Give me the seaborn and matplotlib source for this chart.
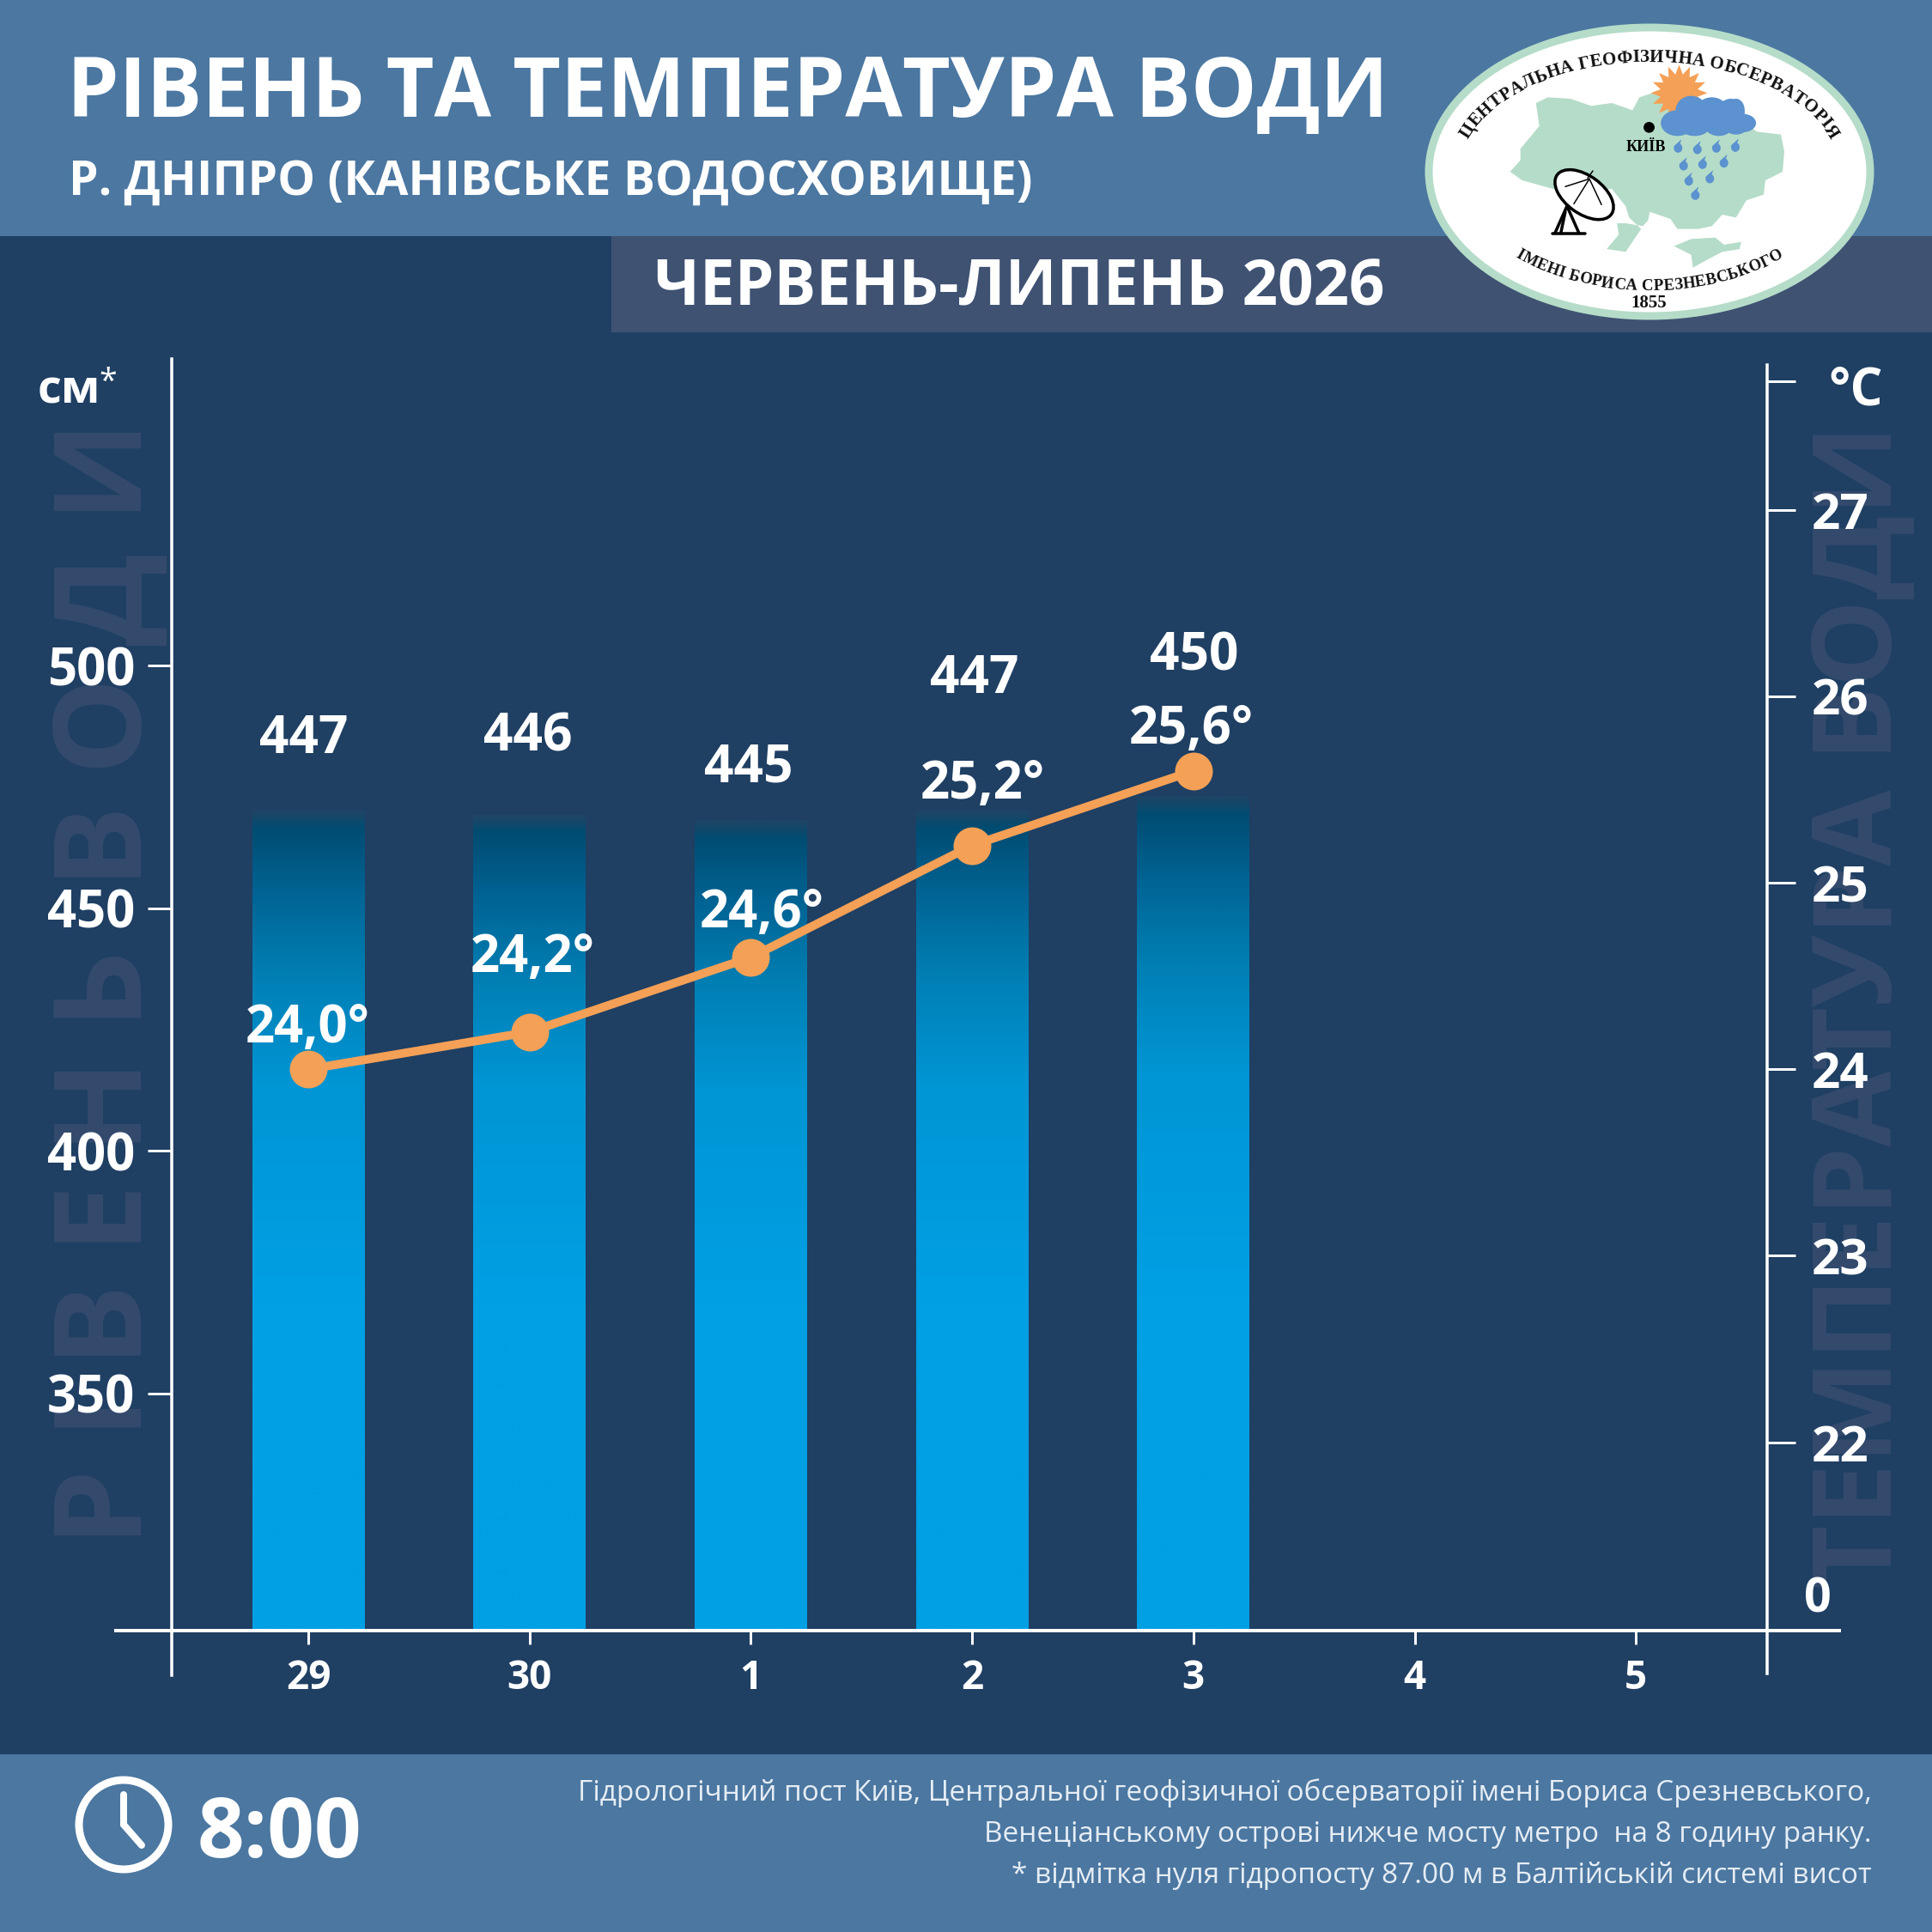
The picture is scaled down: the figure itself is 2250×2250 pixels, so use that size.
import numpy as np
import pandas as pd
import matplotlib
matplotlib.use("Agg")
import matplotlib.pyplot as plt
from matplotlib.colors import LinearSegmentedColormap
from matplotlib.font_manager import FontProperties
from matplotlib.patches import Ellipse, Polygon, Rectangle
from matplotlib.textpath import TextToPath
import seaborn as sns

# Daily observations
DAYS = ["29", "30", "1", "2", "3", "4", "5"]
LEVEL_CM = [447, 446, 445, 447, 450, np.nan, np.nan]
TEMP_C = [24.0, 24.2, 24.6, 25.2, 25.6, np.nan, np.nan]
TEMP_LABELS = ["24,0°", "24,2°", "24,6°", "25,2°", "25,6°"]

LEVEL_TICKS = [350, 400, 450, 500]
TEMP_TICKS = [22, 23, 24, 25, 26, 27]

TITLE = "РІВЕНЬ ТА ТЕМПЕРАТУРА ВОДИ"
SUBTITLE = "Р. ДНІПРО (КАНІВСЬКЕ ВОДОСХОВИЩЕ)"
PERIOD = "ЧЕРВЕНЬ-ЛИПЕНЬ 2026"
FOOTNOTES = [
    "Гідрологічний пост Київ, Центральної геофізичної обсерваторії імені Бориса Срезневського,",
    "Венеціанському острові нижче мосту метро  на 8 годину ранку.",
    "* відмітка нуля гідропосту 87.00 м в Балтійській системі висот",
]

# Palette
BG = "#1f3f63"
STEEL = "#4b77a1"
SLATE = "#3f5272"
GHOST = "#344b6d"
ORANGE = "#f4a056"
MINT = "#b5dcc8"
CLOUD = "#5b92cf"
WHITE = "#ffffff"
BAR_RAMP = [(0.00, "#1e4565"), (0.02, "#004c72"), (0.10, "#006494"),
            (0.20, "#007fb4"), (0.33, "#0095d4"), (0.60, "#00a0e4"), (1.00, "#00a0e4")]

sns.set_theme(style="white", rc={"axes.grid": False})
plt.rcParams["font.family"] = ["Open Sans", "DejaVu Sans"]
plt.rcParams["font.weight"] = "bold"

SIZE = 2250
DPI = 100
PT = 72 / DPI  # points per output pixel

fig = plt.figure(figsize=(SIZE / DPI, SIZE / DPI), dpi=DPI, facecolor=BG)

# Backdrop in pixel units: bands, headings, ghost captions and the emblem
bg = fig.add_axes([0, 0, 1, 1], zorder=0)
bg.set_xlim(0, SIZE)
bg.set_ylim(SIZE, 0)
bg.axis("off")
bg.add_patch(Rectangle((0, 0), SIZE, 275, fc=STEEL, ec="none"))
bg.add_patch(Rectangle((712, 275), SIZE - 712, 112, fc=SLATE, ec="none"))
bg.add_patch(Rectangle((0, 2043), SIZE, SIZE - 2043, fc=STEEL, ec="none"))

bg.text(78, 136, TITLE, color=WHITE, fontsize=69.5, va="baseline", ha="left")
bg.text(80, 227, SUBTITLE, color=WHITE, fontsize=39.7, va="baseline", ha="left")
bg.text(762, 356, PERIOD, color=WHITE, fontsize=52.4, va="baseline", ha="left")

bg.text(165, 1800, "Р І В Е Н Ь  В О Д И", color=GHOST, fontsize=102, rotation=90,
        va="baseline", ha="left", rotation_mode="anchor")
bg.text(2203, 1850, "ТЕМПЕРАТУРА ВОДИ", color=GHOST, fontsize=92.3, rotation=90,
        va="baseline", ha="left", rotation_mode="anchor")

bg.text(44, 470, "см", color=WHITE, fontsize=39, va="baseline", ha="left")
bg.text(126, 456, "*", color=WHITE, fontsize=27, va="baseline", ha="center", fontweight="normal")
bg.text(2193, 471, "°C", color=WHITE, fontsize=43, va="baseline", ha="right")
bg.text(2117, 1877, "0", color=WHITE, fontsize=40, va="baseline", ha="center")

# Clock and observation time
bg.add_patch(Ellipse((144, 2125), 104, 104, fc="none", ec=WHITE, lw=9 * PT))
bg.plot([144, 144, 165], [2090, 2125, 2149], color=WHITE, lw=8 * PT, solid_joinstyle="miter")
bg.text(230, 2163, "8:00", color=WHITE, fontsize=69, va="baseline", ha="left")
for line, base in zip(FOOTNOTES, [2097, 2145, 2193]):
    bg.text(2180, base, line, color="#e6edf4", fontsize=24.05, fontweight="normal",
            va="baseline", ha="right")


def emblem(zx, zy):
    """Emblem layout units to backdrop pixels."""
    return 1620 + np.asarray(zx, float) / 2.489, np.asarray(zy, float) / 3


def blob(zx, zy, rx, ry, color, z=3):
    x, y = emblem(zx, zy)
    bg.add_patch(Ellipse((x, y), 2 * rx / 2.489, 2 * ry / 3, fc=color, ec="none", zorder=z))


bg.add_patch(Ellipse((1921, 200), 514, 336, fc=WHITE, ec=MINT, lw=9 * PT, zorder=2))

MAP_MAIN = [(420, 360), (455, 340), (520, 345), (580, 370), (640, 360), (700, 385), (720, 340),
            (770, 320), (850, 340), (1000, 400), (1060, 460), (1130, 470), (1140, 530), (1135, 600),
            (1085, 630), (1080, 680), (1030, 700), (1000, 760), (960, 750), (930, 790), (890, 800),
            (830, 800), (810, 765), (750, 740), (745, 770), (730, 790), (680, 780), (655, 780),
            (660, 820), (625, 870), (680, 880), (725, 800), (690, 760), (680, 720), (640, 660),
            (470, 660), (380, 630), (345, 600), (375, 560), (375, 520), (430, 440)]
MAP_CRIMEA = [(820, 860), (870, 835), (940, 830), (965, 855), (1015, 845), (1010, 870),
              (960, 880), (920, 905), (875, 935), (870, 890)]
for outline in (MAP_MAIN, MAP_CRIMEA):
    xs, ys = emblem(*zip(*outline))
    bg.add_patch(Polygon(np.c_[xs, ys], fc=MINT, ec="none", zorder=3))

# Sun
sun_angle = np.linspace(0, 2 * np.pi, 33)[:-1]
sun_radius = np.where(np.arange(32) % 2 == 0, 33, 22)
sx, sy = emblem(835, 325)
bg.add_patch(Polygon(np.c_[sx + sun_radius * np.cos(sun_angle), sy + sun_radius * np.sin(sun_angle)],
                     fc=ORANGE, ec="none", zorder=4))

# Cloud and rain
for cx_, cy_, rx_, ry_ in [(830, 430, 48, 45), (870, 385, 45, 50), (930, 395, 50, 55), (985, 395, 40, 50),
                           (1000, 385, 25, 40), (1020, 430, 38, 32), (880, 440, 45, 35),
                           (950, 440, 40, 35), (1000, 440, 35, 30)]:
    blob(cx_, cy_, rx_, ry_, CLOUD, z=5)
drop_turn = np.linspace(-0.35 * np.pi, 1.15 * np.pi, 24)
for zx, zy in [(832, 517), (888, 522), (943, 517), (998, 514), (848, 579), (903, 574), (965, 569),
               (863, 632), (924, 624), (882, 682)]:
    x, y = emblem(zx, zy)
    edge = np.c_[x + 5 * np.cos(drop_turn), y + 5.5 * np.sin(drop_turn)]
    bg.add_patch(Polygon(np.vstack([[x + 4, y - 10], edge]), fc=CLOUD, ec="none", zorder=5))

# Kyiv marker
blob(748, 445, 16, 19, "black", z=6)
kx, ky = emblem(740, 528)
bg.text(kx, ky, "КИЇВ", color="black", fontsize=13, family=["Liberation Serif"],
        va="baseline", ha="center", zorder=6)

# Radio dish
dx, dy = emblem(560, 680)
for seg in [((510, 720), (475, 815)), ((510, 720), (545, 815)), ((505, 740), (492, 815)),
            ((468, 817), (562, 817))]:
    xs, ys = emblem(*zip(*seg))
    bg.plot(xs, ys, color="black", lw=3.5 * PT, zorder=6)
bg.add_patch(Ellipse((dx, dy), 78, 44, angle=36, fc=WHITE, ec="black", lw=3.5 * PT, zorder=6))
for seg in [((575, 625), (505, 652)), ((575, 625), (530, 712)), ((575, 625), (610, 715)), ((570, 622), (585, 597))]:
    xs, ys = emblem(*zip(*seg))
    bg.plot(xs, ys, color="black", lw=1.5 * PT, zorder=7)

# Lettering that follows the emblem's rim
measure = TextToPath()


def rim_text(text, rx, ry, start, stop, lower, size):
    serif = FontProperties(family="Liberation Serif", weight="bold", size=size)
    widths = np.array([measure.get_text_width_height_descent(c, serif, False)[0] for c in text], float)
    marks = (np.cumsum(widths) - widths / 2) / widths.sum()
    theta = np.linspace(np.radians(start), np.radians(stop), 721)
    px = 1921 + rx * np.cos(theta)
    py = 200 - ry * np.sin(theta)
    run = np.r_[0, np.cumsum(np.hypot(np.diff(px), np.diff(py)))]
    for c, m in zip(text, marks):
        t = np.interp(m * run[-1], run, theta)
        up_x = rx * np.sin(t) * (-1 if lower else 1)
        up_y = ry * np.cos(t) * (1 if lower else -1)
        bg.text(1921 + rx * np.cos(t), 200 - ry * np.sin(t), c, color="#111111",
                fontproperties=serif, rotation=np.degrees(np.arctan2(up_y, up_x)),
                rotation_mode="anchor", ha="center", va="baseline", zorder=8)


rim_text("ЦЕНТРАЛЬНА ГЕОФІЗИЧНА ОБСЕРВАТОРІЯ", 221, 128, 163, 17, False, 15)
rim_text("ІМЕНІ БОРИСА СРЕЗНЕВСЬКОГО", 225, 138, -134, -46, True, 13.5)
nx, ny = emblem(748, 1075)
bg.text(nx, ny, "1855", color="#111111", fontsize=15, family=["Liberation Serif"],
        ha="center", va="baseline", zorder=8)

# Chart frame: x 200..2058 px, y 418..1899 px
AX_L, AX_R, AX_T, AX_B = 200, 2058, 418, 1899
rect = [AX_L / SIZE, 1 - AX_B / SIZE, (AX_R - AX_L) / SIZE, (AX_B - AX_T) / SIZE]
ax = fig.add_axes(rect, zorder=2)
ax.patch.set_visible(False)

STEP = 257.7
records = pd.DataFrame({"day": DAYS, "level": LEVEL_CM, "temp": TEMP_C})
sns.barplot(data=records, x="day", y="level", order=DAYS, width=131 / STEP, color=BAR_RAMP[-1][1],
            saturation=1, errorbar=None, linewidth=0, ax=ax)

LEVEL_SCALE = 5.65  # pixels per centimetre
bar_floor = 278
ax.set_ylim(bar_floor, bar_floor + (AX_B - AX_T) / LEVEL_SCALE)
ax.set_xlim((AX_L - 359) / STEP, (AX_R - 359) / STEP)
x_range = ax.get_xlim()

# Vertical ramp painted over each bar
ramp = LinearSegmentedColormap.from_list("water", BAR_RAMP)
column = np.linspace(0, 1, 512)[:, None]
for bar in ax.patches:
    top = bar.get_height()
    if not np.isfinite(top):
        continue
    x0 = bar.get_x()
    ax.imshow(column, cmap=ramp, vmin=0, vmax=1, aspect="auto", zorder=1.5, interpolation="bilinear",
              extent=(x0, x0 + bar.get_width(), bar_floor, top))
ax.set_ylim(bar_floor, bar_floor + (AX_B - AX_T) / LEVEL_SCALE)
ax.set_xlim(*x_range)

ax.set_xlabel("")
ax.set_ylabel("")
ax.set_yticks([])
ax.set_xticks(range(len(DAYS)), DAYS)
ax.tick_params(axis="x", length=16 * PT, width=3 * PT, color=WHITE, labelcolor=WHITE, labelsize=33,
               pad=16 * PT, bottom=True)
for name in ("top", "left", "right"):
    ax.spines[name].set_visible(False)
ax.spines["bottom"].set_color(WHITE)
ax.spines["bottom"].set_linewidth(4 * PT)
ax.spines["bottom"].set_zorder(3)
ax.spines["bottom"].set_bounds((135 - 359) / STEP, (2142 - 359) / STEP)

# Level ruler on the left
ruler = ax.twinx()
ruler.set_zorder(3)
ruler.patch.set_visible(False)
ruler_floor = 425 - (AX_B - 1199) / LEVEL_SCALE
ruler.set_ylim(ruler_floor, ruler_floor + (AX_B - AX_T) / LEVEL_SCALE)
ruler.yaxis.tick_left()
ruler.set_yticks(LEVEL_TICKS, [str(v) for v in LEVEL_TICKS])
ruler.tick_params(axis="y", length=28 * PT, width=3 * PT, color=WHITE, labelcolor=WHITE, labelsize=43,
                  pad=15 * PT, left=True, right=False)
for name in ("top", "right", "bottom"):
    ruler.spines[name].set_visible(False)
ruler.spines["left"].set_color(WHITE)
ruler.spines["left"].set_linewidth(3.5 * PT)
ruler.spines["left"].set_bounds(ruler_floor - 52 / LEVEL_SCALE, ruler_floor + (AX_B - AX_T) / LEVEL_SCALE)

# Temperature on the right
TEMP_SCALE = 217.2  # pixels per degree
temp_axis = ax.twinx()
temp_axis.set_zorder(4)
temp_axis.patch.set_visible(False)
temp_floor = 24.5 - (AX_B - 1136.67) / TEMP_SCALE
temp_top = temp_floor + (AX_B - AX_T) / TEMP_SCALE

positions = np.arange(len(DAYS))
sns.lineplot(x=positions, y=records["temp"], ax=temp_axis, color=ORANGE, linewidth=10 * PT, marker="o",
             markersize=44 * PT, markeredgewidth=0, errorbar=None, legend=False)
temp_axis.set_ylim(temp_floor, temp_top)
temp_axis.set_xlim(*x_range)
temp_axis.set_xlabel("")
temp_axis.set_ylabel("")
temp_axis.yaxis.tick_right()
temp_axis.set_yticks(TEMP_TICKS + [27.69], [str(v) for v in TEMP_TICKS] + [""])
temp_axis.tick_params(axis="y", length=33 * PT, width=3 * PT, color=WHITE, labelcolor=WHITE, labelsize=42,
                      pad=19 * PT, right=True, left=False)
for name in ("top", "left", "bottom"):
    temp_axis.spines[name].set_visible(False)
temp_axis.spines["right"].set_color(WHITE)
temp_axis.spines["right"].set_linewidth(3.5 * PT)
temp_axis.spines["right"].set_bounds(temp_floor - 50 / TEMP_SCALE, temp_top - 7 / TEMP_SCALE)

# Value labels: offsets from each mark, in pixels (dx, dy up to the text baseline)
LEVEL_OFFSETS = [(-5, 67), (-2, 75), (-3, 45), (3, 137), (1, 147)]
TEMP_OFFSETS = [(-1, 31), (4, 70), (13, 35), (12, 55), (-2, 32)]
for i, (value, (ox, oy)) in enumerate(zip(LEVEL_CM[:5], LEVEL_OFFSETS)):
    ax.annotate(str(value), (i, value), xytext=(ox * PT, oy * PT), textcoords="offset points",
                color=WHITE, fontsize=43.5, ha="center", va="baseline", annotation_clip=False)
for i, (value, label, (ox, oy)) in enumerate(zip(TEMP_C[:5], TEMP_LABELS, TEMP_OFFSETS)):
    temp_axis.annotate(label, (i, value), xytext=(ox * PT, oy * PT), textcoords="offset points",
                       color=WHITE, fontsize=43, ha="center", va="baseline", annotation_clip=False)

fig.savefig("out.png", dpi=DPI, facecolor=BG)
